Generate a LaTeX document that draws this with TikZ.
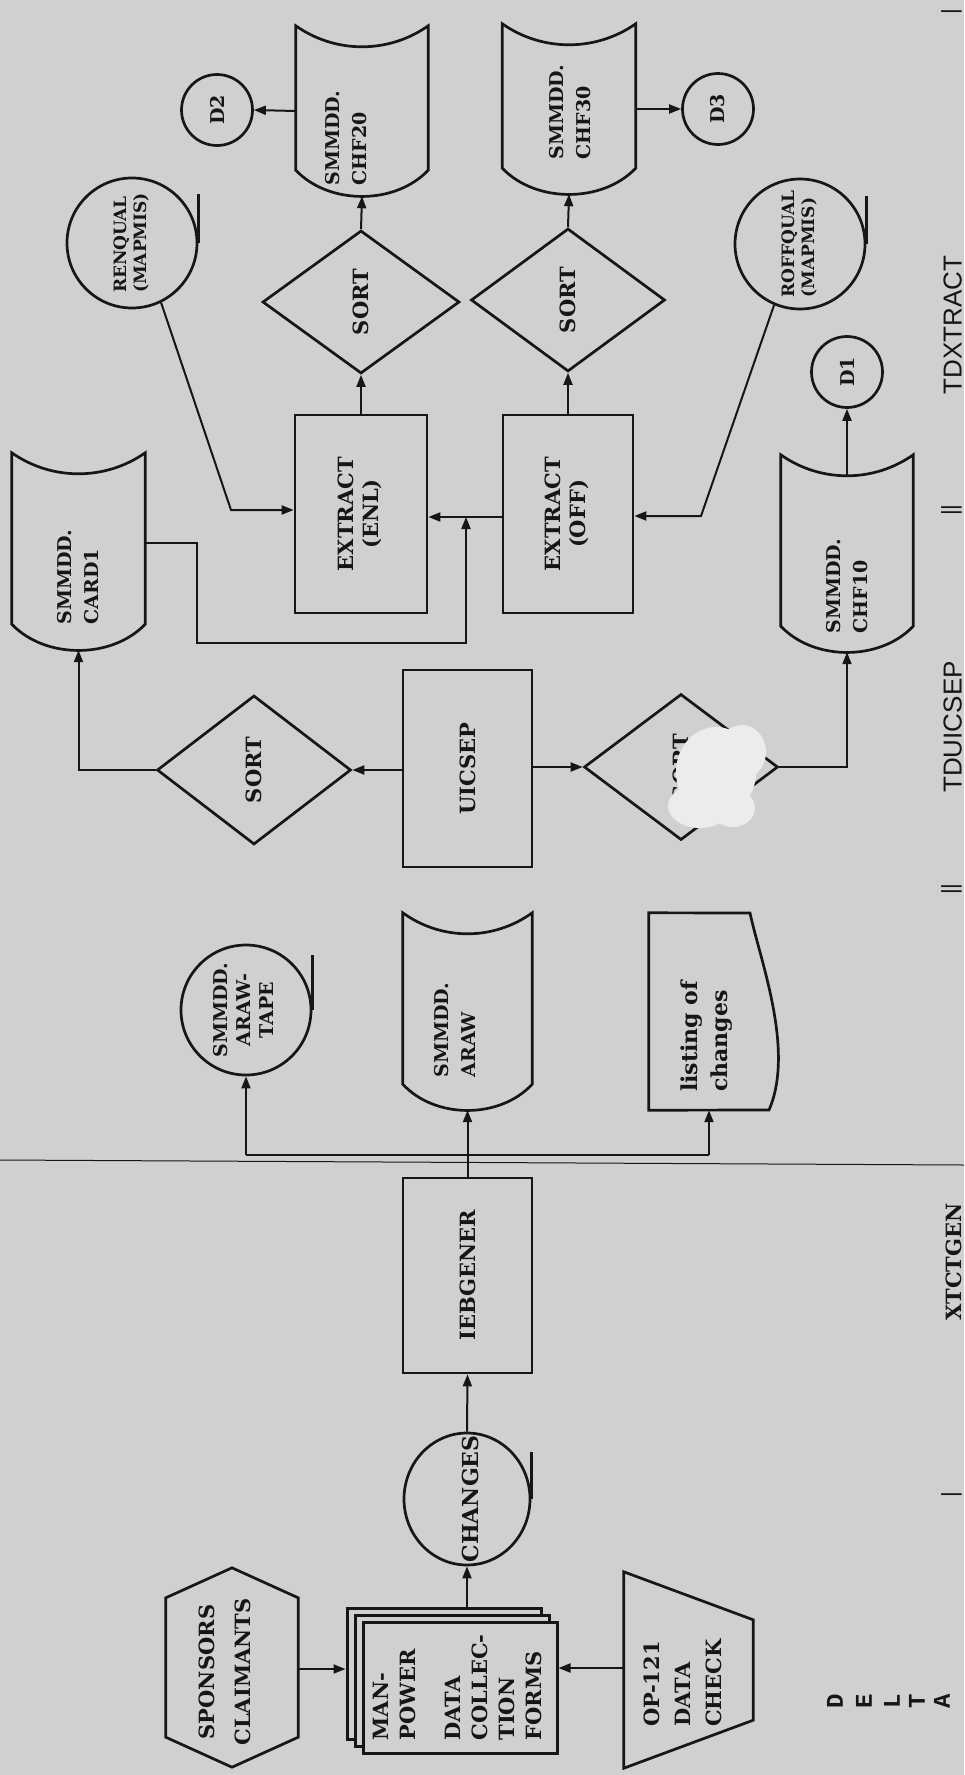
\documentclass[tikz,border=0pt]{standalone}
\usepackage{fontspec}
\usepackage{graphicx}
\setmainfont{DejaVu Serif}
\newfontfamily\lsans{Liberation Sans}
\newfontfamily\lmono{Liberation Mono}
\usetikzlibrary{arrows.meta,shapes.geometric,calc}
\definecolor{paper}{RGB}{208,208,208}
\definecolor{ink}{RGB}{22,22,22}
\definecolor{blot}{RGB}{236,236,236}
\newcommand\rtx[2][c]{\rotatebox{90}{\begin{tabular}{@{}#1@{}}#2\end{tabular}}}
\newcommand\storeline[1]{%
  \draw[ln] (#1.north west)
    .. controls ($(#1.north west)!0.3!(#1.north east)+(0,-28)$) and ($(#1.north west)!0.7!(#1.north east)+(0,-28)$) .. (#1.north east)
    -- ($(#1.south east)+(0,26)$)
    .. controls ($(#1.south east)!0.25!(#1.south west)+(0,-9)$) and ($(#1.south east)!0.75!(#1.south west)+(0,-9)$) .. ($(#1.south west)+(0,26)$)
    -- cycle;}
\tikzset{
  ln/.style={draw=ink, line width=2.7pt},
  conn/.style={draw=ink, line width=2pt},
  arr/.style={conn, -{Triangle[length=12pt,width=9pt]}},
  ghost/.style={rectangle, draw=none, inner sep=0pt},
  procbox/.style={rectangle, ln, inner sep=0pt, text=ink, font=\bfseries\fontsize{21}{25}\selectfont},
  dia/.style={diamond, ln, inner sep=0pt, text=ink, font=\bfseries\fontsize{21}{25}\selectfont},
  dcirc/.style={circle, ln, inner sep=0pt, minimum size=71pt, text=ink, font=\bfseries\fontsize{19}{22}\selectfont},
  tape/.style={circle, ln, inner sep=0pt, minimum size=130pt, text=ink, font=\bfseries\fontsize{17}{20}\selectfont},
  stxt/.style={inner sep=0pt, text=ink, font=\bfseries\fontsize{19}{27}\selectfont},
  mtxt/.style={inner sep=0pt, text=ink, font=\bfseries\fontsize{21}{27}\selectfont},
  sheet/.style={rectangle, draw=ink, line width=3pt, fill=paper, inner sep=0pt, minimum width=194pt, minimum height=131pt},
  sidelab/.style={rotate=90, anchor=south, inner sep=0pt, text=ink},
  deltaletter/.style={rotate=90, inner sep=0pt, text=ink, font=\lmono\bfseries\fontsize{24}{24}\selectfont},
}
\begin{document}
\begin{tikzpicture}[x=1pt,y=1pt]
\useasboundingbox (0,0) rectangle (964,-1775);
\fill[paper] (0,0) rectangle (964,-1775);

% ---------- TDXTRACT stage ----------
\node[ghost, minimum width=132pt, minimum height=170pt] (chf20) at (362,-111) {};
\storeline{chf20}
\node[stxt] (chf20t) at (348,-138) {\rtx[l]{SMMDD.\\CHF20}};
\node[ghost, minimum width=133pt, minimum height=170pt] (chf30) at (569,-109) {};
\storeline{chf30}
\node[stxt] (chf30t) at (572,-112) {\rtx[l]{SMMDD.\\CHF30}};
\node[dcirc] (d2) at (217,-110) {\rotatebox{90}{D2}};
\node[dcirc] (d3) at (718,-109) {\rotatebox{90}{D3}};
\node[dia, minimum width=197pt, minimum height=143pt] (sort1) at (361,-302) {\rotatebox{90}{SORT}};
\node[dia, minimum width=194pt, minimum height=143pt] (sort2) at (568,-300) {\rotatebox{90}{SORT}};
\node[procbox, minimum width=132pt, minimum height=198pt] (enl) at (361,-514) {\rtx{EXTRACT\\(ENL)}};
\node[procbox, minimum width=130pt, minimum height=198pt] (off) at (568,-514) {\rtx{EXTRACT\\(OFF)}};
\node[tape] (ren) at (132,-243) {\rtx[l]{RENQUAL\\(MAPMIS)}};
\draw[ln] (ren.east) -- ++(0,49);
\node[tape] (roff) at (800,-244) {\rtx[l]{ROFFQUAL\\(MAPMIS)}};
\draw[ln] (roff.east) -- ++(0,48);
\node[ghost, minimum width=133pt, minimum height=197pt] (card1) at (78.5,-551.5) {};
\storeline{card1}
\node[stxt] (card1t) at (80,-577) {\rtx[l]{SMMDD.\\CARD1}};
\node[ghost, minimum width=132pt, minimum height=197pt] (chf10) at (847,-553.5) {};
\storeline{chf10}
\node[stxt] (chf10t) at (849,-586) {\rtx[l]{SMMDD.\\CHF10}};
\node[dcirc] (d1) at (847,-372) {\rotatebox{90}{D1}};

\draw[arr] (chf20.west) -- (d2.east);
\draw[arr] (chf30.east) -- (d3.west);
\draw[arr] (enl.north) -- (sort1.south);
\draw[arr] (sort1.north) -- (chf20.south);
\draw[arr] (off.north) -- (sort2.south);
\draw[arr] (sort2.north) -- (chf30.south);
\draw[arr] ($(chf10.north)+(0,-21)$) -- (d1.south);
\coordinate (rbend) at (231,-510);
\draw[arr] (ren.-64) -- (rbend) -- (rbend -| enl.west);
\coordinate (obend) at (701,-516);
\draw[arr] (roff.-113) -- (obend) -- (obend -| off.east);
\coordinate (jn) at (466,-517);
\draw[arr] (jn -| off.west) -- (jn -| enl.east);
\coordinate (c1) at (197,-543);
\coordinate (c2) at (197,-643);
\draw[arr] (c1 -| card1.east) -- (c1) -- (c2) -- (c2 -| jn) -- (jn);

% ---------- TDUICSEP stage ----------
\node[procbox, minimum width=129pt, minimum height=197pt] (uic) at (467.5,-768.5) {\rotatebox{90}{UICSEP}};
\node[dia, minimum width=194pt, minimum height=149pt] (sort3) at (254,-770) {\rotatebox{90}{SORT}};
\node[dia, minimum width=194pt, minimum height=146pt] (sort4) at (681,-767) {\rotatebox{90}{SORT}};
\draw[arr] (uic.west |- sort3.east) -- (sort3.east);
\draw[arr] (uic.east |- sort4.west) -- (sort4.west);
\draw[arr] (sort3.west) -| (card1.south);
\draw[arr] (sort4.east) -| (chf10.south);
% paper damage over the right sort
\fill[blot] (716,-772) ellipse (40 and 45);
\fill[blot] (700,-806) ellipse (32 and 22);
\fill[blot] (742,-752) ellipse (24 and 27);
\fill[blot] (733,-808) ellipse (22 and 19);

% ---------- XTCTGEN stage ----------
\node[ghost, minimum width=129pt, minimum height=197pt] (araw) at (467.5,-1011.5) {};
\storeline{araw}
\node[stxt] (arawtx) at (457,-1030) {\rtx[l]{SMMDD.\\ARAW}};
\node[tape, font=\bfseries\fontsize{19}{23}\selectfont] (arawt) at (246,-1010) {\rtx{SMMDD.\\ARAW-\\TAPE}};
\draw[ln] (arawt.east) -- ++(0,55);
\node[ghost, minimum width=132pt, minimum height=197pt] (lst) at (715,-1011.5) {};
\draw[ln] (lst.north west) -- (750,-913) .. controls (760,-960) and (795,-1050) .. (769,-1110) -- (lst.south west) -- cycle;
\node[mtxt, anchor=south, font=\bfseries\fontsize{22}{30}\selectfont] (lsttx) at (706,-1092) {\rtx[l]{listing of\\changes}};
\node[procbox, minimum width=129pt, minimum height=195pt] (ieb) at (467.5,-1275.5) {\rotatebox{90}{IEBGENER}};
\draw[line width=1pt, ink] (0,-1160) -- (964,-1165);
\coordinate (jL) at (246,-1155);
\coordinate (jR) at (709,-1155);
\draw[conn] (ieb.north) -- (ieb.north |- jL);
\draw[conn] (jL) -- (jR);
\draw[arr] (jL) -- (arawt.south);
\draw[arr] (ieb.north) -- (araw.south);
\draw[arr] (jR) -- (jR |- lst.south);
\node[ellipse, ln, inner sep=0pt, minimum width=126pt, minimum height=132pt] (chg) at (467,-1499) {};
\draw[ln] (chg.east) -- ++(0,47);
\node[mtxt, font=\bfseries\fontsize{22}{26}\selectfont] (chgt) at (470,-1499) {\rotatebox{90}{CHANGES}};
\draw[arr] (chg.north) -- (ieb.south);

% ---------- DELTA stage ----------
\node[sheet] (fb2) at (444,-1673.5) {};
\node[sheet] (fb1) at (452,-1680.5) {};
\node[sheet, font=\bfseries\fontsize{21}{27}\selectfont, text=ink] (forms) at (460,-1687.5) {\rtx[l]{MAN-\\POWER\\[18pt]DATA\\COLLEC-\\TION\\FORMS}};
\draw[arr] (fb2.north -| chg.south) -- (chg.south);
\node[ghost, minimum width=132pt, minimum height=199pt] (spons) at (232,-1667.5) {};
\draw[ln] (spons.north) -- ($(spons.north east)+(0,-30)$) -- ($(spons.south east)+(0,30)$) -- (spons.south) -- ($(spons.south west)+(0,30)$) -- ($(spons.north west)+(0,-30)$) -- cycle;
\node[mtxt, font=\bfseries\fontsize{21}{36}\selectfont] (sponst) at (225,-1672) {\rtx{SPONSORS\\CLAIMANTS}};
\node[ghost, minimum width=129pt, minimum height=196pt] (opck) at (688.5,-1670) {};
\draw[ln] (opck.north west) -- ($(opck.north east)+(0,-48)$) -- ($(opck.south east)+(0,48)$) -- (opck.south west) -- cycle;
\node[mtxt, anchor=south, font=\bfseries\fontsize{21}{31}\selectfont] (opckt) at (684,-1727) {\rtx[l]{OP-121\\DATA\\CHECK}};
\draw[arr] (spons.east |- 0,-1669) -- (fb2.west |- 0,-1669);
\draw[arr] (opck.west |- 0,-1668) -- (forms.east |- 0,-1668);

% ---------- stage labels along the edge ----------
\node[sidelab, font=\lsans\fontsize{22}{22}\selectfont] (sep0) at (962,-12) {|};
\node[sidelab, font=\lsans\fontsize{26}{26}\selectfont] (labx) at (962,-325) {TDXTRACT};
\node[sidelab, font=\lsans\fontsize{22}{22}\selectfont] (sep1) at (962,-510) {||};
\node[sidelab, font=\lsans\fontsize{26}{26}\selectfont] (labu) at (962,-727) {TDUICSEP};
\node[sidelab, font=\lsans\fontsize{22}{22}\selectfont] (sep2) at (962,-889) {||};
\node[sidelab, font=\bfseries\fontsize{21}{21}\selectfont] (labg) at (962,-1262) {XTCTGEN};
\node[sidelab, font=\lsans\fontsize{22}{22}\selectfont] (sep3) at (962,-1495) {|};
\node[deltaletter] (dl1) at (835,-1701) {D};
\node[deltaletter] (dl2) at (864,-1701) {E};
\node[deltaletter] (dl3) at (892,-1701) {L};
\node[deltaletter] (dl4) at (917,-1701) {T};
\node[deltaletter] (dl5) at (942,-1701) {A};
\end{tikzpicture}
\end{document}
